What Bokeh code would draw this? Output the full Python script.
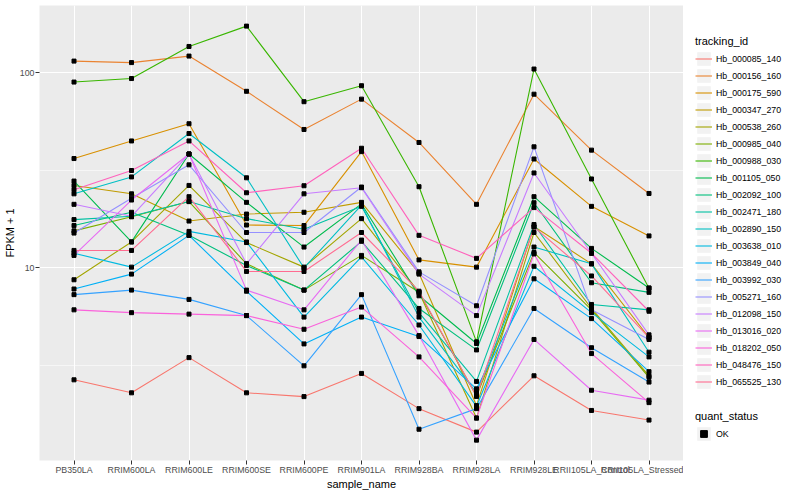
from bokeh.plotting import figure
from bokeh.layouts import row
from bokeh.models import (FactorRange, Range1d, FixedTicker, NumeralTickFormatter,
                          Legend, LegendItem, ColumnDataSource)
from bokeh.embed import file_html
from bokeh.resources import INLINE

samples = ["PB350LA", "RRIM600LA", "RRIM600LE", "RRIM600SE", "RRIM600PE",
           "RRIM901LA", "RRIM928BA", "RRIM928LA", "RRIM928LE",
           "RRII105LA_Control", "RRII105LA_Stressed"]

tracking_ids = ["Hb_000085_140", "Hb_000156_160", "Hb_000175_590", "Hb_000347_270",
                "Hb_000538_260", "Hb_000985_040", "Hb_000988_030", "Hb_001105_050",
                "Hb_002092_100", "Hb_002471_180", "Hb_002890_150", "Hb_003638_010",
                "Hb_003849_040", "Hb_003992_030", "Hb_005271_160", "Hb_012098_150",
                "Hb_013016_020", "Hb_018202_050", "Hb_048476_150", "Hb_065525_130"]

colors = ["#F8766D", "#EA8331", "#D89000", "#C09B00", "#A3A500", "#7CAE00", "#39B600",
          "#00BB4E", "#00BF7D", "#00C1A3", "#00BFC4", "#00BAE0", "#00B0F6", "#35A2FF",
          "#9590FF", "#C77CFF", "#E76BF3", "#FA62DB", "#FF62BC", "#FF6C91"]

hb_000085_140 = [2.67, 2.29, 3.47, 2.29, 2.19, 2.88, 1.90, 1.44, 2.80, 1.86, 1.66]
hb_000156_160 = [115, 113, 122, 80.5, 51.3, 73.4, 44.0, 21.2, 77.8, 40.2, 24.1]
hb_000175_590 = [36.4, 44.8, 54.9, 16.6, 16.5, 39.5, 11.0, 10.1, 36.2, 20.7, 14.6]
hb_000347_270 = [26.5, 24.0, 17.4, 18.9, 19.3, 21.7, 9.4, 1.97, 16.3, 10.5, 4.4]
hb_000538_260 = [8.7, 13.6, 26.5, 13.5, 10.1, 17.9, 7.5, 1.7, 15.2, 6.2, 2.8]
hb_000985_040 = [15.5, 18.3, 21.9, 10.5, 7.7, 11.6, 7.5, 2.2, 12.0, 6.1, 2.75]
hb_000988_030 = [89.8, 93.6, 136.7, 173.8, 71.2, 86.0, 26.1, 4.18, 104.7, 28.6, 7.87]
hb_001105_050 = [27.9, 13.6, 38.4, 21.7, 12.8, 21.3, 7.2, 4.1, 23.2, 12.6, 7.9]
hb_002092_100 = [16.5, 19.3, 14.7, 10.3, 7.7, 13.7, 6.2, 3.8, 21.6, 8.4, 7.5]
hb_002471_180 = [17.7, 18.4, 21.9, 17.9, 15.8, 20.7, 5.9, 2.62, 16.7, 6.5, 6.1]
hb_002890_150 = [24.0, 29.3, 48.9, 29.0, 10.0, 21.0, 5.6, 2.29, 12.8, 10.5, 3.7]
hb_003638_010 = [11.9, 10.1, 15.4, 13.6, 5.6, 11.4, 5.1, 1.95, 10.2, 5.9, 3.5]
hb_003849_040 = [7.8, 9.3, 14.7, 7.6, 4.08, 5.6, 4.45, 2.4, 8.8, 5.5, 2.94]
hb_003992_030 = [7.3, 7.7, 6.9, 5.7, 3.15, 7.3, 1.49, 1.9, 6.2, 3.9, 2.6]
hb_005271_160 = [15.1, 22.8, 33.8, 15.2, 15.2, 26.0, 9.55, 6.4, 41.8, 6.1, 4.3]
hb_012098_150 = [21.2, 18.4, 38.4, 10.5, 24.0, 25.8, 9.3, 5.7, 30.7, 11.9, 4.54]
hb_013016_020 = [11.6, 22.3, 38.4, 7.7, 6.1, 13.9, 4.5, 1.31, 4.3, 2.36, 2.1]
hb_018202_050 = [6.1, 5.9, 5.8, 5.7, 4.85, 6.3, 3.5, 1.7, 11.8, 3.64, 2.04]
hb_048476_150 = [25.2, 31.6, 44.8, 24.3, 26.4, 41.1, 14.7, 11.2, 20.4, 11.9, 6.0]
hb_065525_130 = [12.3, 12.3, 23.2, 9.6, 9.6, 15.2, 7.6, 2.2, 16.2, 9.1, 4.4]

series = [hb_000085_140, hb_000156_160, hb_000175_590, hb_000347_270, hb_000538_260,
          hb_000985_040, hb_000988_030, hb_001105_050, hb_002092_100, hb_002471_180,
          hb_002890_150, hb_003638_010, hb_003849_040, hb_003992_030, hb_005271_160,
          hb_012098_150, hb_013016_020, hb_018202_050, hb_048476_150, hb_065525_130]

quant_status = "OK"

FONT = "Liberation Sans"
FW = 644
H = 492
LW = 108
NAN = float("nan")

p = figure(x_range=FactorRange(factors=samples, range_padding=0.2 / 11),
           y_axis_type="log", y_range=Range1d(1.03, 221.7),
           frame_width=FW, height=H,
           min_border_top=5, min_border_bottom=0, min_border_left=0, min_border_right=0,
           output_backend="svg", toolbar_location=None,
           x_axis_label="sample_name", y_axis_label="FPKM + 1")

p.background_fill_color = "#EBEBEB"
p.border_fill_color = "white"
p.outline_line_color = None

yt = FixedTicker(ticks=[10, 100], minor_ticks=[3.1623, 31.623])
p.yaxis.ticker = yt
p.ygrid.ticker = yt
p.yaxis.formatter = NumeralTickFormatter(format="0")

for g in (p.xgrid, p.ygrid):
    g.grid_line_color = "white"
    g.grid_line_width = 1.1
p.ygrid.minor_grid_line_color = "white"
p.ygrid.minor_grid_line_width = 0.55

for ax in (p.xaxis, p.yaxis):
    ax.axis_line_color = None
    ax.major_tick_line_color = "#333333"
    ax.major_tick_in = 0
    ax.major_tick_out = 4
    ax.minor_tick_line_color = None
    ax.major_label_text_font = FONT
    ax.major_label_text_font_size = "8.8px"
    ax.major_label_text_color = "#4D4D4D"
    ax.major_label_standoff = 1
    ax.axis_label_text_font = FONT
    ax.axis_label_text_font_size = "11px"
    ax.axis_label_text_font_style = "normal"
    ax.axis_label_text_color = "black"
    ax.axis_label_standoff = 1
p.xaxis.major_label_standoff = 0
p.xaxis.axis_label_standoff = 0

for ys, c in zip(series, colors):
    p.line(x=samples, y=ys, line_color=c, line_width=1.1)

for ys in series:
    src = ColumnDataSource(dict(x=samples, y=ys, status=[quant_status] * len(ys)))
    p.scatter(x="x", y="y", source=src, marker="square", size=4,
              fill_color="black", line_color="black")

# ---- legend panel (separate canvas to the right of the plot) ----
lf = figure(width=LW, height=H, x_range=(0, 1), y_range=(0, 1),
            x_axis_location=None, y_axis_location=None,
            min_border=0, output_backend="svg", toolbar_location=None)
lf.grid.visible = False
lf.outline_line_color = None
lf.background_fill_color = "white"

# legend-only glyphs: a single NaN row so that nothing shows on the canvas
bg = lf.quad(left=[NAN], right=[NAN], top=[NAN], bottom=[NAN],
             fill_color="#F2F2F2", line_color=None)
key_lines = [lf.line(x=[NAN, NAN], y=[NAN, NAN], line_color=c, line_width=1.1) for c in colors]
key_pt = lf.scatter(x=[NAN], y=[NAN], marker="square", size=4,
                    fill_color="black", line_color="black")

items = [LegendItem(label=tid, renderers=[bg, r]) for tid, r in zip(tracking_ids, key_lines)]
leg1 = Legend(items=items, title="tracking_id", location=(12, 70))
leg2 = Legend(items=[LegendItem(label=quant_status, renderers=[bg, key_pt])],
              title="quant_status", location=(12, 18))
for lg in (leg1, leg2):
    lg.padding = 0
    lg.margin = 0
    lg.spacing = 0
    lg.glyph_width = 17
    lg.glyph_height = 17
    lg.label_height = 17
    lg.label_standoff = 4
    lg.title_standoff = 3
    lg.label_text_font = FONT
    lg.label_text_font_size = "8.8px"
    lg.label_text_color = "black"
    lg.title_text_font = FONT
    lg.title_text_font_size = "11px"
    lg.title_text_font_style = "normal"
    lg.title_text_color = "black"
    lg.border_line_color = None
    lg.background_fill_alpha = 0
    lf.add_layout(lg, "center")

layout = row(p, lf, spacing=0)
open("out.html", "w").write(file_html(layout, INLINE))
